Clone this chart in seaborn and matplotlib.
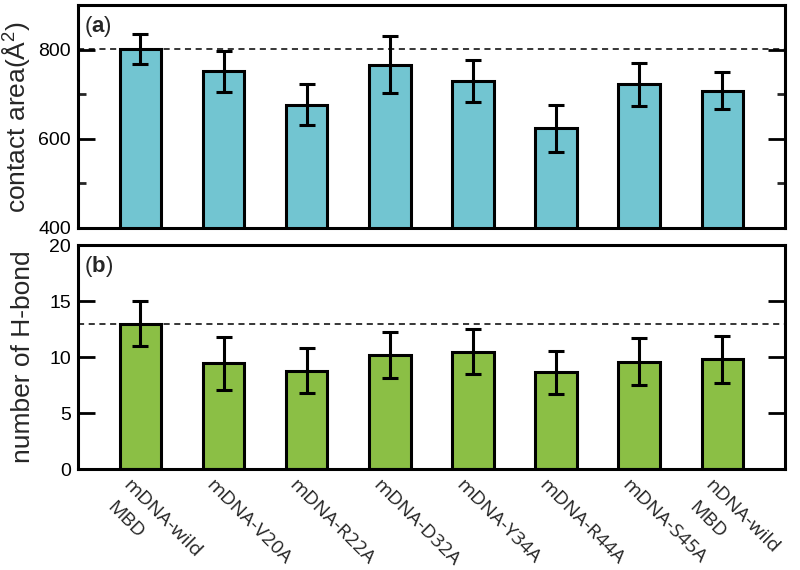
import matplotlib
matplotlib.use("Agg")
import matplotlib.pyplot as plt
import matplotlib.transforms as mtransforms
import seaborn as sns
import pandas as pd

categories = ["mDNA-wild\nMBD", "mDNA-V20A", "mDNA-R22A", "mDNA-D32A",
              "mDNA-Y34A", "mDNA-R44A", "mDNA-S45A", "nDNA-wild\nMBD"]
contact_area = [802, 752, 677, 766, 729, 624, 722, 708]
contact_err = [34, 46, 45, 64, 47, 53, 48, 42]
hbond = [13.0, 9.45, 8.8, 10.15, 10.5, 8.65, 9.6, 9.8]
hbond_err = [2.0, 2.35, 2.0, 2.05, 2.0, 1.9, 2.08, 2.08]

sns.set_theme(style="white")
plt.rcParams['font.family'] = ['Liberation Sans', 'DejaVu Sans']
plt.rcParams['mathtext.fontset'] = 'custom'
plt.rcParams['mathtext.rm'] = 'Liberation Sans'
plt.rcParams['mathtext.bf'] = 'Liberation Sans:bold'

df = pd.DataFrame({"cat": categories, "area": contact_area, "aerr": contact_err,
                   "hb": hbond, "herr": hbond_err})

fig = plt.figure(figsize=(8, 5.7), dpi=100)
ax1 = fig.add_axes([0.0975, 0.600, 0.8835, 0.391])
ax2 = fig.add_axes([0.0975, 0.177, 0.8835, 0.393])

cyan = "#72C5D1"
green = "#8BBF45"

for ax, col, ecol, color, ref in [(ax1, "area", "aerr", cyan, contact_area[0]),
                                  (ax2, "hb", "herr", green, hbond[0])]:
    ax.axhline(ref, color="black", lw=1.1, ls=(0, (4, 3)), zorder=0)
    sns.barplot(data=df, x="cat", y=col, ax=ax, color=color, saturation=1,
                width=0.5, edgecolor="black", linewidth=2.2, errorbar=None, zorder=2)
    ax.errorbar(x=range(len(df)), y=df[col], yerr=df[ecol], fmt="none",
                ecolor="black", elinewidth=2.2, capsize=6, capthick=2.2, zorder=3)
    ax.set_xlim(-0.75, 7.75)
    ax.set_xlabel("")
    for s in ax.spines.values():
        s.set_linewidth(2.2)
        s.set_color("black")
        s.set_visible(True)
    ax.tick_params(axis="y", direction="in", length=12, width=2, right=True, left=True,
                   labelsize=14, pad=5, colors="black")
    ax.tick_params(axis="y", which="minor", direction="in", length=6, width=2, right=True, left=True)
    ax.tick_params(axis="x", length=0)

ax1.set_ylim(400, 900)
ax1.set_yticks([400, 600, 800])
ax1.set_yticks([500, 700], minor=True)
ax1.set_xticklabels([])
ax1.set_ylabel("contact area(Å$^2$)", fontsize=19, labelpad=4)
ax1.text(0.008, 0.96, r"($\mathbf{a}$)", transform=ax1.transAxes, fontsize=16,
         ha="left", va="top")

ax2.set_ylim(0, 20)
ax2.set_yticks([0, 5, 10, 15, 20])
ax2.set_ylabel("number of H-bond", fontsize=19, labelpad=10)
ax2.text(0.008, 0.96, r"($\mathbf{b}$)", transform=ax2.transAxes, fontsize=16,
         ha="left", va="top")

label_family = ["Open Sans", "DejaVu Sans"]
first_lines = [c.split("\n")[0] for c in categories]
ax2.set_xticks(range(len(categories)))
ax2.set_xticklabels(first_lines, rotation=-45, ha="left", va="top",
                    rotation_mode="anchor", fontsize=14, family=label_family)
offset = mtransforms.ScaledTranslation(-8 / 100, -2 / 100, fig.dpi_scale_trans)
second_offset = mtransforms.ScaledTranslation(-0.16, -0.22, fig.dpi_scale_trans)
for i, lab in enumerate(ax2.get_xticklabels()):
    lab.set_transform(lab.get_transform() + offset)
    parts = categories[i].split("\n")
    if len(parts) > 1:
        ax2.text(i, 0, parts[1], transform=lab.get_transform() + second_offset,
                 rotation=-45, ha="left", va="top", rotation_mode="anchor",
                 fontsize=14, family=label_family, clip_on=False)

fig.savefig("out.png", dpi=100)
